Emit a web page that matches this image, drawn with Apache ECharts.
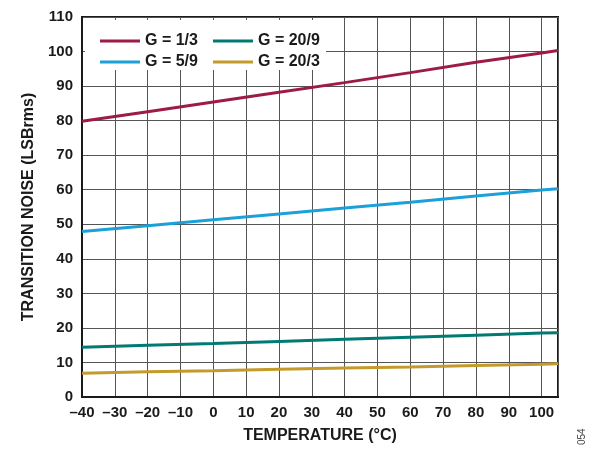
<!DOCTYPE html>
<html>
<head>
<meta charset="utf-8">
<script src="https://cdn.jsdelivr.net/npm/echarts@6/dist/echarts.min.js"></script>
<style>html,body{margin:0;padding:0;background:#fff;}#c{width:605px;height:449px;}</style>
</head>
<body>
<div id="c"></div>
<script>
const temps = [-40, -20, 0, 20, 40, 60, 80, 100, 105];
const g1_3  = [79.8, 82.6, 85.4, 88.2, 91.0, 93.9, 96.9, 99.6, 100.3];
const g5_9  = [47.9, 49.6, 51.3, 53.0, 54.7, 56.4, 58.2, 59.9, 60.3];
const g20_9 = [14.4, 15.0, 15.5, 16.1, 16.7, 17.3, 17.9, 18.5, 18.6];
const g20_3 = [6.9, 7.3, 7.6, 8.0, 8.4, 8.7, 9.1, 9.5, 9.6];
const seriesNames = ['G = 1/3', 'G = 5/9', 'G = 20/9', 'G = 20/3'];
const colors = ['#9E1B45', '#1BA0D8', '#007A73', '#C49A2C'];

const FONT = '"Liberation Sans", Arial, sans-serif';
const pair = (xs, ys) => xs.map((x, i) => [x, ys[i]]);
const allData = [g1_3, g5_9, g20_9, g20_3];

const chart = echarts.init(document.getElementById('c'), null, {renderer: 'canvas'});
chart.setOption({
  animation: false,
  backgroundColor: '#fff',
  grid: {left: 82, right: 47, top: 17, bottom: 52, show: true, borderColor: '#1a1a1a', borderWidth: 2, backgroundColor: 'transparent'},
  xAxis: {
    type: 'value', min: -40, max: 105, interval: 10,
    name: 'TEMPERATURE (°C)', nameLocation: 'middle', nameGap: 31,
    nameTextStyle: {fontFamily: FONT, fontWeight: 'bold', fontSize: 16, color: '#1a1a1a'},
    axisLine: {show: true, onZero: false, lineStyle: {color: '#1a1a1a', width: 2}},
    axisTick: {show: false},
    axisLabel: {fontFamily: FONT, fontWeight: 'bold', fontSize: 15, color: '#1a1a1a', margin: 8, showMaxLabel: false,
      formatter: v => (v > 100 ? '' : String(v).replace('-', '–'))},
    splitLine: {show: true, lineStyle: {color: '#555', width: 1}}
  },
  yAxis: {
    type: 'value', min: 0, max: 110, interval: 10,
    name: 'TRANSITION NOISE (LSBrms)', nameLocation: 'middle', nameGap: 43,
    nameTextStyle: {fontFamily: FONT, fontWeight: 'bold', fontSize: 16, color: '#1a1a1a'},
    axisLine: {show: true, onZero: false, lineStyle: {color: '#1a1a1a', width: 2}},
    axisTick: {show: false},
    axisLabel: {fontFamily: FONT, fontWeight: 'bold', fontSize: 15, color: '#1a1a1a', margin: 9},
    splitLine: {show: true, lineStyle: {color: '#555', width: 1}}
  },
  legend: [
    {data: [seriesNames[0], seriesNames[1]], orient: 'vertical', left: 95, top: 28, itemGap: 5,
     itemWidth: 40, itemHeight: 3, icon: 'rect', z: 10,
     textStyle: {fontFamily: FONT, fontWeight: 'bold', fontSize: 16, color: '#1a1a1a'}},
    {data: [seriesNames[2], seriesNames[3]], orient: 'vertical', left: 208, top: 28, itemGap: 5,
     itemWidth: 40, itemHeight: 3, icon: 'rect', z: 10,
     textStyle: {fontFamily: FONT, fontWeight: 'bold', fontSize: 16, color: '#1a1a1a'}}
  ],
  graphic: [
    {type: 'rect', z: 5, shape: {x: 85, y: 20, width: 241, height: 50}, style: {fill: '#fff'}},
    {type: 'text', z: 5, x: 577, y: 445, rotation: Math.PI / 2,
     style: {text: '054', fontFamily: FONT, fontSize: 10, fill: '#444'}}
  ],
  series: seriesNames.map((n, i) => ({
    name: n, type: 'line', data: pair(temps, allData[i]), symbol: 'none', smooth: false,
    lineStyle: {color: colors[i], width: 3}, itemStyle: {color: colors[i]}, z: 3
  }))
});
</script>
</body>
</html>
